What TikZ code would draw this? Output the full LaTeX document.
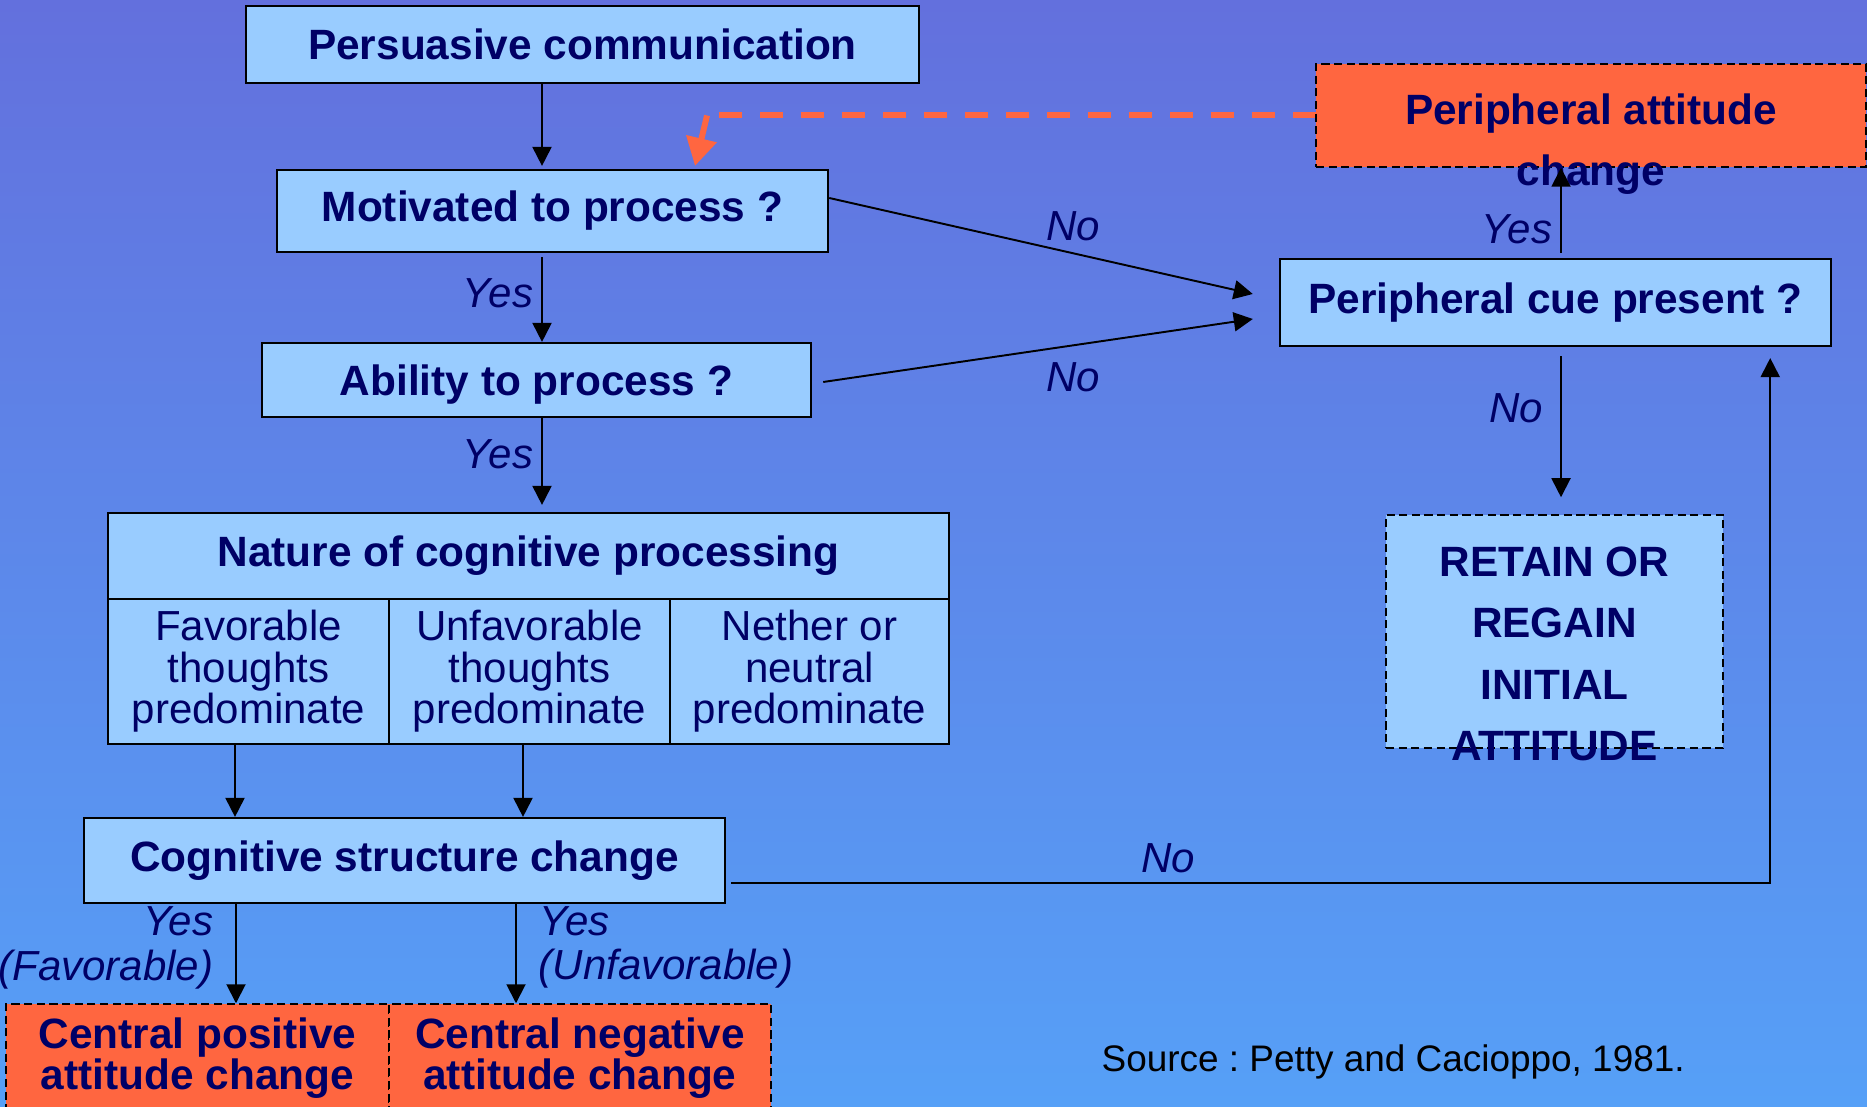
\documentclass[tikz,border=0pt]{standalone}
\usepackage{fontspec}
\setmainfont{Liberation Sans}
\usetikzlibrary{arrows.meta,calc}
\definecolor{navy}{RGB}{0,0,102}
\definecolor{boxblue}{RGB}{153,204,255}
\definecolor{orng}{RGB}{255,102,64}
\definecolor{bgtop}{RGB}{99,112,221}
\definecolor{bgbot}{RGB}{86,160,247}
\frenchspacing
\begin{document}
\begin{tikzpicture}[x=0.01cm,y=-0.01cm,
  box/.style={draw=black, line width=0.6pt, fill=boxblue, inner sep=0pt, text=navy,
    font=\fontsize{12.05}{11.8}\selectfont\bfseries, align=center},
  colbox/.style={draw=black, line width=0.6pt, fill=boxblue, inner sep=0pt, text=navy,
    font=\fontsize{11.95}{11.8}\selectfont, align=center},
  dbox/.style={line width=0.4pt, dash pattern=on 2.3pt off 1.3pt},
  bigtext/.style={inner sep=0pt, text=navy, align=center,
    font=\fontsize{12.05}{17.5}\selectfont\bfseries},
  lbl/.style={text=navy, font=\fontsize{11.95}{11.95}\selectfont\itshape, inner sep=0pt},
  arr/.style={draw=black, line width=0.55pt, -{Triangle[width=0.19cm,length=0.19cm]}},
  orline/.style={draw=orng, line width=1.7pt},
]
% background
\shade[top color=bgtop, bottom color=bgbot] (0,0) rectangle (1867,1107);
\useasboundingbox (0,0) rectangle (1867,1107);
\clip (0,0) rectangle (1867,1107);

% boxes
\node[box, minimum width=6.73cm, minimum height=0.77cm] (pers) at (582.5,44.5) {Persuasive communication};
\node[box, minimum width=5.51cm, minimum height=0.82cm] (mot) at (552.5,211) {Motivated to process ?};
\node[box, minimum width=5.49cm, minimum height=0.74cm, text depth=0pt] (abil) at (536.5,380) {Ability to process ?};
\node[box, minimum width=8.41cm, minimum height=0.86cm] (nat) at (528.5,556) {Nature of cognitive processing};
\node[colbox, minimum width=2.81cm, minimum height=1.45cm] (fav) at (248.5,671.5) {Favorable\\thoughts\\predominate};
\node[colbox, minimum width=2.81cm, minimum height=1.45cm] (unf) at (529.5,671.5) {Unfavorable\\thoughts\\predominate};
\node[colbox, minimum width=2.79cm, minimum height=1.45cm] (neu) at (809.5,671.5) {Nether or\\neutral\\predominate};
\node[box, minimum width=6.41cm, minimum height=0.85cm] (cog) at (404.5,860.5) {Cognitive structure change};
\node[box, dbox, fill=orng, minimum width=3.83cm, minimum height=1.08cm] (cpos) at (197.5,1058) {Central positive\\attitude change};
\node[box, dbox, fill=orng, minimum width=3.82cm, minimum height=1.08cm] (cneg) at (580,1058) {Central negative\\attitude change};
\node[box, minimum width=5.51cm, minimum height=0.87cm] (cue) at (1555.5,302.5) {Peripheral cue present ?};

% orange dashed feedback line (behind the box)
\coordinate (pw) at (1316,115.5);
\coordinate (bend) at ($(pw)+(-609,0)$);
\coordinate (ptip) at ($(mot.north)+(142.5,-3)$);
\draw[orline, dash pattern=on 0.23cm off 0.18cm] (pw) -- (bend);
\draw[orline, -{Triangle[width=0.3cm,length=0.28cm]}] (bend) -- (ptip);

\node[box, dbox, fill=orng, minimum width=5.5cm, minimum height=1.03cm] (pac) at (1591,115.5) {};
\node[bigtext] (pactext) at (1591,144) {Peripheral attitude\\change};
\node[box, dbox, minimum width=3.37cm, minimum height=2.33cm] (ret) at (1554.5,631.5) {};
\node[bigtext] (rettext) at (1554.5,654) {RETAIN OR\\REGAIN\\INITIAL\\ATTITUDE};

\node[anchor=west, inner sep=0pt, text=black, font=\fontsize{10.5}{10.5}\selectfont] (src) at (1101,1062) {Source : Petty and Cacioppo, 1981.};

% connectors
\coordinate (spine) at (542,0);
\draw[arr] (pers.south -| spine) -- ($(mot.north -| spine)+(0,-3)$);
\draw[arr] ($(mot.south -| spine)+(0,4)$) -- (abil.north -| spine);
\draw[arr] (abil.south -| spine) -- ($(nat.north -| spine)+(0,-7)$);

\draw[arr] ($(mot.east)+(0,-13)$) -- ($(cue.west)+(-26,-8.5)$);
\draw[arr] ($(abil.east)+(11,2)$) -- ($(cue.west)+(-26,16.5)$);

\coordinate (cx) at ($(cue.north)+(5.5,0)$);
\draw[arr] ($(cx)+(0,-5)$) -- (pac.south -| cx);
\draw[arr] ($(cue.south -| cx)+(0,9)$) -- ($(ret.north -| cx)+(0,-17)$);

\coordinate (rc) at ($(cue.south east)+(-62,11)$);
\draw[arr] ($(cog.east)+(5,22.5)$) -| (rc);

\coordinate (f1) at ($(fav.south)+(-13.5,0)$);
\coordinate (f2) at ($(unf.south)+(-6.5,0)$);
\draw[arr] (f1) -- (cog.north -| f1);
\draw[arr] (f2) -- (cog.north -| f2);

\coordinate (g1) at ($(cpos.north)+(38.5,0)$);
\coordinate (g2) at ($(cneg.north)+(-64,0)$);
\draw[arr] (cog.south -| g1) -- (g1);
\draw[arr] (cog.south -| g2) -- (g2);

% labels
\node[lbl] (no1) at (1073,226) {No};
\node[lbl] (no2) at (1073,377) {No};
\node[lbl] (yes1) at (498,293) {Yes};
\node[lbl] (yes2) at (498,454) {Yes};
\node[lbl] (yes3) at (1517,229) {Yes};
\node[lbl] (no3) at (1516,408) {No};
\node[lbl] (no4) at (1168,858) {No};
\node[lbl, anchor=east] (yes4) at (214,921) {Yes};
\node[lbl, anchor=east] (fav2) at (214,970) {(Favorable)};
\node[lbl, anchor=west] (yes5) at (539,921) {Yes};
\node[lbl, anchor=west] (unf2) at (538,969) {(Unfavorable)};
\end{tikzpicture}
\end{document}
